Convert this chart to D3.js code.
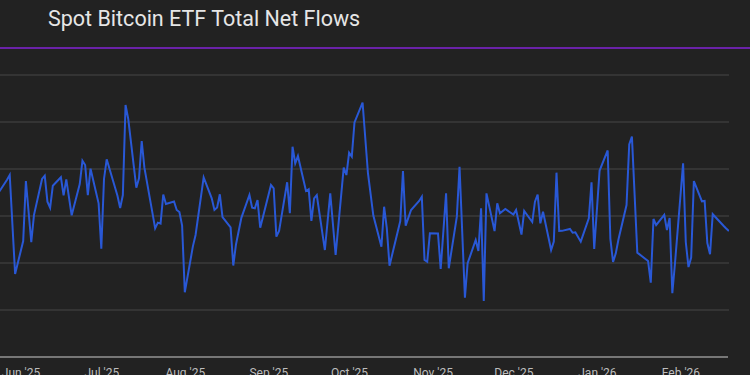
<!DOCTYPE html>
<html><head><meta charset="utf-8">
<script src="https://cdn.jsdelivr.net/npm/d3@7"></script>
<style>html,body{margin:0;padding:0;background:#222222;overflow:hidden}</style>
</head><body>
<svg id="c" width="750" height="375"></svg>
<script>
const title = "Spot Bitcoin ETF Total Net Flows";
const dates = ["2025-05-23","2025-05-27","2025-05-28","2025-05-30","2025-06-02","2025-06-03","2025-06-05","2025-06-06","2025-06-09","2025-06-10","2025-06-11","2025-06-12","2025-06-13","2025-06-16","2025-06-17","2025-06-18","2025-06-20","2025-06-23","2025-06-24","2025-06-25","2025-06-26","2025-06-27","2025-06-30","2025-07-01","2025-07-02","2025-07-03","2025-07-07","2025-07-08","2025-07-09","2025-07-10","2025-07-11","2025-07-14","2025-07-15","2025-07-16","2025-07-17","2025-07-21","2025-07-22","2025-07-23","2025-07-24","2025-07-25","2025-07-28","2025-07-29","2025-07-30","2025-07-31","2025-08-01","2025-08-04","2025-08-05","2025-08-08","2025-08-11","2025-08-12","2025-08-13","2025-08-14","2025-08-15","2025-08-18","2025-08-19","2025-08-20","2025-08-22","2025-08-25","2025-08-26","2025-08-27","2025-08-28","2025-08-29","2025-09-02","2025-09-03","2025-09-04","2025-09-05","2025-09-08","2025-09-09","2025-09-10","2025-09-11","2025-09-12","2025-09-15","2025-09-16","2025-09-17","2025-09-18","2025-09-19","2025-09-22","2025-09-24","2025-09-26","2025-09-29","2025-09-30","2025-10-01","2025-10-02","2025-10-03","2025-10-06","2025-10-08","2025-10-10","2025-10-13","2025-10-14","2025-10-15","2025-10-16","2025-10-20","2025-10-21","2025-10-22","2025-10-24","2025-10-27","2025-10-28","2025-10-29","2025-10-30","2025-10-31","2025-11-03","2025-11-04","2025-11-06","2025-11-07","2025-11-10","2025-11-11","2025-11-13","2025-11-14","2025-11-17","2025-11-18","2025-11-19","2025-11-20","2025-11-21","2025-11-24","2025-11-25","2025-11-26","2025-11-28","2025-12-01","2025-12-02","2025-12-04","2025-12-05","2025-12-08","2025-12-09","2025-12-10","2025-12-11","2025-12-12","2025-12-15","2025-12-16","2025-12-17","2025-12-18","2025-12-19","2025-12-22","2025-12-23","2025-12-24","2025-12-26","2025-12-29","2025-12-30","2025-12-31","2026-01-02","2026-01-05","2026-01-06","2026-01-07","2026-01-08","2026-01-09","2026-01-12","2026-01-13","2026-01-14","2026-01-16","2026-01-20","2026-01-21","2026-01-22","2026-01-23","2026-01-26","2026-01-27","2026-01-28","2026-01-29","2026-01-30","2026-02-02","2026-02-03","2026-02-04","2026-02-05","2026-02-06","2026-02-09","2026-02-10","2026-02-11","2026-02-12","2026-02-13","2026-02-17","2026-02-18","2026-02-19"];
const flows = [211,385,436,-617,-266,372,-277,10,394,429,152,88,322,412,220,390,7,340,588,543,223,503,135,-348,394,603,216,85,223,1181,1032,301,400,798,514,-131,-71,-82,229,128,154,64,43,-101,-812,-323,-202,410,188,64,90,231,-11,-122,-527,-303,-20,223,88,82,170,-125,330,295,-220,-160,359,29,737,561,638,266,284,-53,188,223,-362,241,-415,514,436,673,631,995,1207,455,5,-327,99,-131,-529,-53,479,-103,64,160,205,-468,-486,-184,-186,-564,241,-556,-7,524,-869,-503,-255,-372,82,-904,241,-160,135,29,74,16,64,-197,53,-64,152,229,-78,46,-362,-273,461,-160,-158,-138,-178,-174,-273,-24,359,-351,484,697,-243,-489,-398,-250,117,761,844,-390,-479,-710,-32,-96,13,-149,-21,-822,-500,561,-277,-543,-442,372,156,160,-287,-406,19,-104,-133,-160];
const monthTicks = ["2025-06-01","2025-07-01","2025-08-01","2025-09-01","2025-10-01","2025-11-01","2025-12-01","2026-01-01","2026-02-01"];
const yTicks = [-1500,-1000,-500,0,500,1000,1500];

const parse = d3.utcParse("%Y-%m-%d");
const data = dates.map((d,i)=>({date: parse(d), v: flows[i]}));

const svg = d3.select("#c");
const plotRight = 729;
const x = d3.scaleUtc().domain([parse("2025-06-01"), parse("2026-02-01")]).range([20.5, 680.4]);
const y = d3.scaleLinear().domain([-1500, 1500]).range([357, 75]);

svg.append("rect").attr("width",750).attr("height",375).attr("fill","#222222");

svg.append("text").attr("x",48).attr("y",26)
  .attr("font-family","Roboto, 'Noto Sans', sans-serif").attr("font-size",21.5)
  .attr("fill","#e6e6e6").text(title);

svg.append("rect").attr("x",0).attr("y",47).attr("width",750).attr("height",2).attr("fill","#6a22a8");

// gridlines
svg.append("g").selectAll("line").data(yTicks.filter(t=>t>-1500)).join("line")
  .attr("x1",0).attr("x2",plotRight)
  .attr("y1",d=>y(d)).attr("y2",d=>y(d))
  .attr("stroke","#464646").attr("stroke-width",1);

// x axis
const xAxis = d3.axisBottom(x).tickValues(monthTicks.map(parse))
  .tickFormat(d3.utcFormat("%b '%y")).tickSize(0).tickPadding(11);
const gx = svg.append("g").attr("transform",`translate(0,${y(-1500)})`).call(xAxis);
gx.select(".domain").remove();
gx.selectAll("text").attr("fill","#bdbdbd").attr("font-size",12)
  .attr("font-family","Roboto, 'Noto Sans', sans-serif");
svg.append("line").attr("x1",0).attr("x2",plotRight-1).attr("y1",y(-1500)).attr("y2",y(-1500))
  .attr("stroke","#777777").attr("stroke-width",2);

svg.append("clipPath").attr("id","clip").append("rect")
  .attr("x",0).attr("y",0).attr("width",plotRight).attr("height",375);

const line = d3.line().x(d=>x(d.date)).y(d=>y(d.v));
svg.append("path").datum(data).attr("clip-path","url(#clip)")
  .attr("d",line).attr("fill","none").attr("stroke","#2958d6")
  .attr("stroke-width",2).attr("stroke-linejoin","miter");
</script>
</body></html>
